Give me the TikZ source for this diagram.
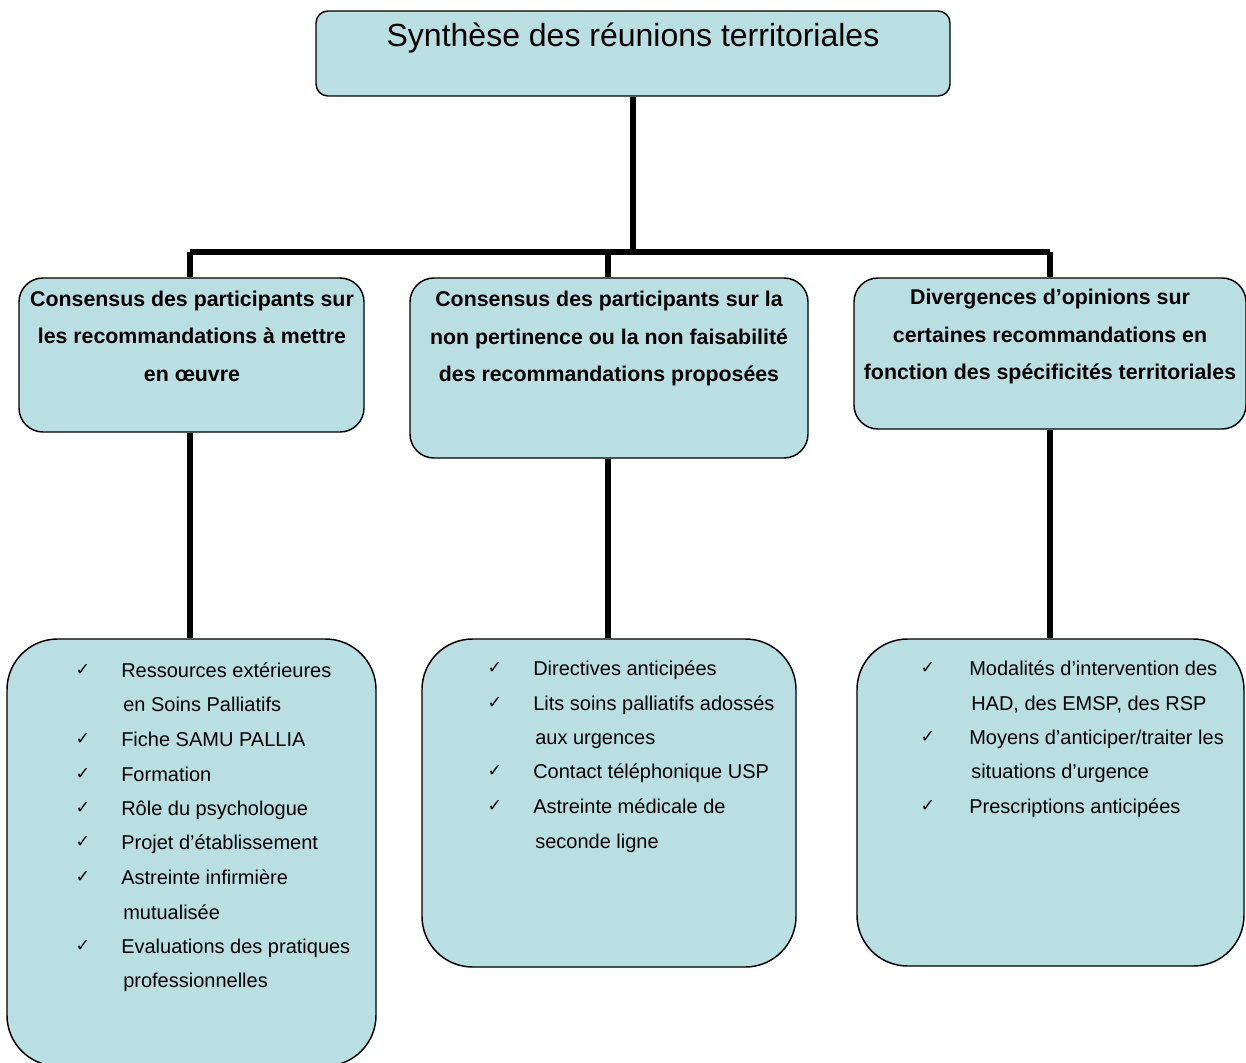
\documentclass[tikz,border=0pt]{standalone}
\usepackage{fontspec}
\setmainfont{Liberation Sans}
\newfontfamily\dejavu{DejaVu Sans}
\usetikzlibrary{fit}
\definecolor{boxfill}{RGB}{185,223,227}
\tikzset{
  box/.style={draw=black, line width=1.1pt, fill=boxfill, inner sep=0pt},
  r1/.style={box, rounded corners=9pt},
  r2/.style={box, rounded corners=18pt},
  r3/.style={box, rounded corners=38pt},
  conn/.style={draw=black, line width=3.8pt},
  titletxt/.style={inner sep=0pt, anchor=base, font=\fontsize{24}{28}\selectfont},
  headtxt/.style={inner sep=0pt, anchor=base, font=\fontsize{16}{19}\selectfont\bfseries},
  itemtxt/.style={inner sep=0pt, anchor=base west, font=\fontsize{15}{18}\selectfont},
  chk/.style={inner sep=0pt, anchor=base, font=\dejavu\fontsize{13}{15}\selectfont},
}
\begin{document}
\begin{tikzpicture}[x=0.75pt,y=-0.75pt]
\path[use as bounding box, clip] (0,0) rectangle (1246,1063);
\fill[white] (0,0) rectangle (1246,1063);
% connector junctions
\coordinate (j) at (633,252);
\coordinate (jl) at (190,252);
\coordinate (jm) at (608,252);
\coordinate (jr) at (1050,252);
% boxes
\node[r1, fit={(316,11)(950,96)}] (top) {};
\node[r2, fit={(19,278)(364,432)}] (h1) {};
\node[r2, fit={(410,278)(808,458)}] (h2) {};
\node[r2, fit={(854,278)(1246,429)}] (h3) {};
\node[r3, fit={(7,639)(376,1066)}] (b1) {};
\node[r3, fit={(422,639)(796,967)}] (b2) {};
\node[r3, fit={(857,639)(1244,966)}] (b3) {};
% connectors
\draw[conn] (top.south -| j) -- (j);
\draw[conn] (jl) -- (jr);
\draw[conn] (jl) -- (jl |- h1.north);
\draw[conn] (jm) -- (jm |- h2.north);
\draw[conn] (jr) -- (jr |- h3.north);
\draw[conn] (jl |- h1.south) -- (jl |- b1.north);
\draw[conn] (jm |- h2.south) -- (jm |- b2.north);
\draw[conn] (jr |- h3.south) -- (jr |- b3.north);
% title
\node[titletxt] (tt) at (633,47) {Synthèse des réunions territoriales};
% headings
\node[headtxt] (h1a) at (192,306) {Consensus des participants sur};
\node[headtxt] (h1b) at (192,343) {les recommandations à mettre};
\node[headtxt] (h1c) at (192,381) {en œuvre};
\node[headtxt] (h2a) at (609,306) {Consensus des participants sur la};
\node[headtxt] (h2b) at (609,344) {non pertinence ou la non faisabilité};
\node[headtxt] (h2c) at (609,381) {des recommandations proposées};
\node[headtxt] (h3a) at (1050,304) {Divergences d’opinions sur};
\node[headtxt] (h3b) at (1050,342) {certaines recommandations en};
\node[headtxt] (h3c) at (1050,379) {fonction des spécificités territoriales};
% left list
\node[chk] (c11) at (83,675) {✓};
\node[itemtxt] (l11) at (121,677) {Ressources extérieures};
\node[itemtxt] (l12) at (123,711) {en Soins Palliatifs};
\node[chk] (c12) at (83,744) {✓};
\node[itemtxt] (l13) at (121,746) {Fiche SAMU PALLIA};
\node[chk] (c13) at (83,779) {✓};
\node[itemtxt] (l14) at (121,781) {Formation};
\node[chk] (c14) at (83,813) {✓};
\node[itemtxt] (l15) at (121,815) {Rôle du psychologue};
\node[chk] (c15) at (83,847) {✓};
\node[itemtxt] (l16) at (121,849) {Projet d’établissement};
\node[chk] (c16) at (83,882) {✓};
\node[itemtxt] (l17) at (121,884) {Astreinte infirmière};
\node[itemtxt] (l18) at (123,919) {mutualisée};
\node[chk] (c17) at (83,951) {✓};
\node[itemtxt] (l19) at (121,953) {Evaluations des pratiques};
\node[itemtxt] (l110) at (123,987) {professionnelles};
% middle list
\node[chk] (c21) at (495,673) {✓};
\node[itemtxt] (l21) at (533,675) {Directives anticipées};
\node[chk] (c22) at (495,708) {✓};
\node[itemtxt] (l22) at (533,710) {Lits soins palliatifs adossés};
\node[itemtxt] (l23) at (535,744) {aux urgences};
\node[chk] (c23) at (495,776) {✓};
\node[itemtxt] (l24) at (533,778) {Contact téléphonique USP};
\node[chk] (c24) at (495,811) {✓};
\node[itemtxt] (l25) at (533,813) {Astreinte médicale de};
\node[itemtxt] (l26) at (535,848) {seconde ligne};
% right list
\node[chk] (c31) at (928,673) {✓};
\node[itemtxt] (l31) at (969,675) {Modalités d’intervention des};
\node[itemtxt] (l32) at (971,710) {HAD, des EMSP, des RSP};
\node[chk] (c32) at (928,742) {✓};
\node[itemtxt] (l33) at (969,744) {Moyens d’anticiper/traiter les};
\node[itemtxt] (l34) at (971,778) {situations d’urgence};
\node[chk] (c33) at (928,811) {✓};
\node[itemtxt] (l35) at (969,813) {Prescriptions anticipées};
\end{tikzpicture}
\end{document}
